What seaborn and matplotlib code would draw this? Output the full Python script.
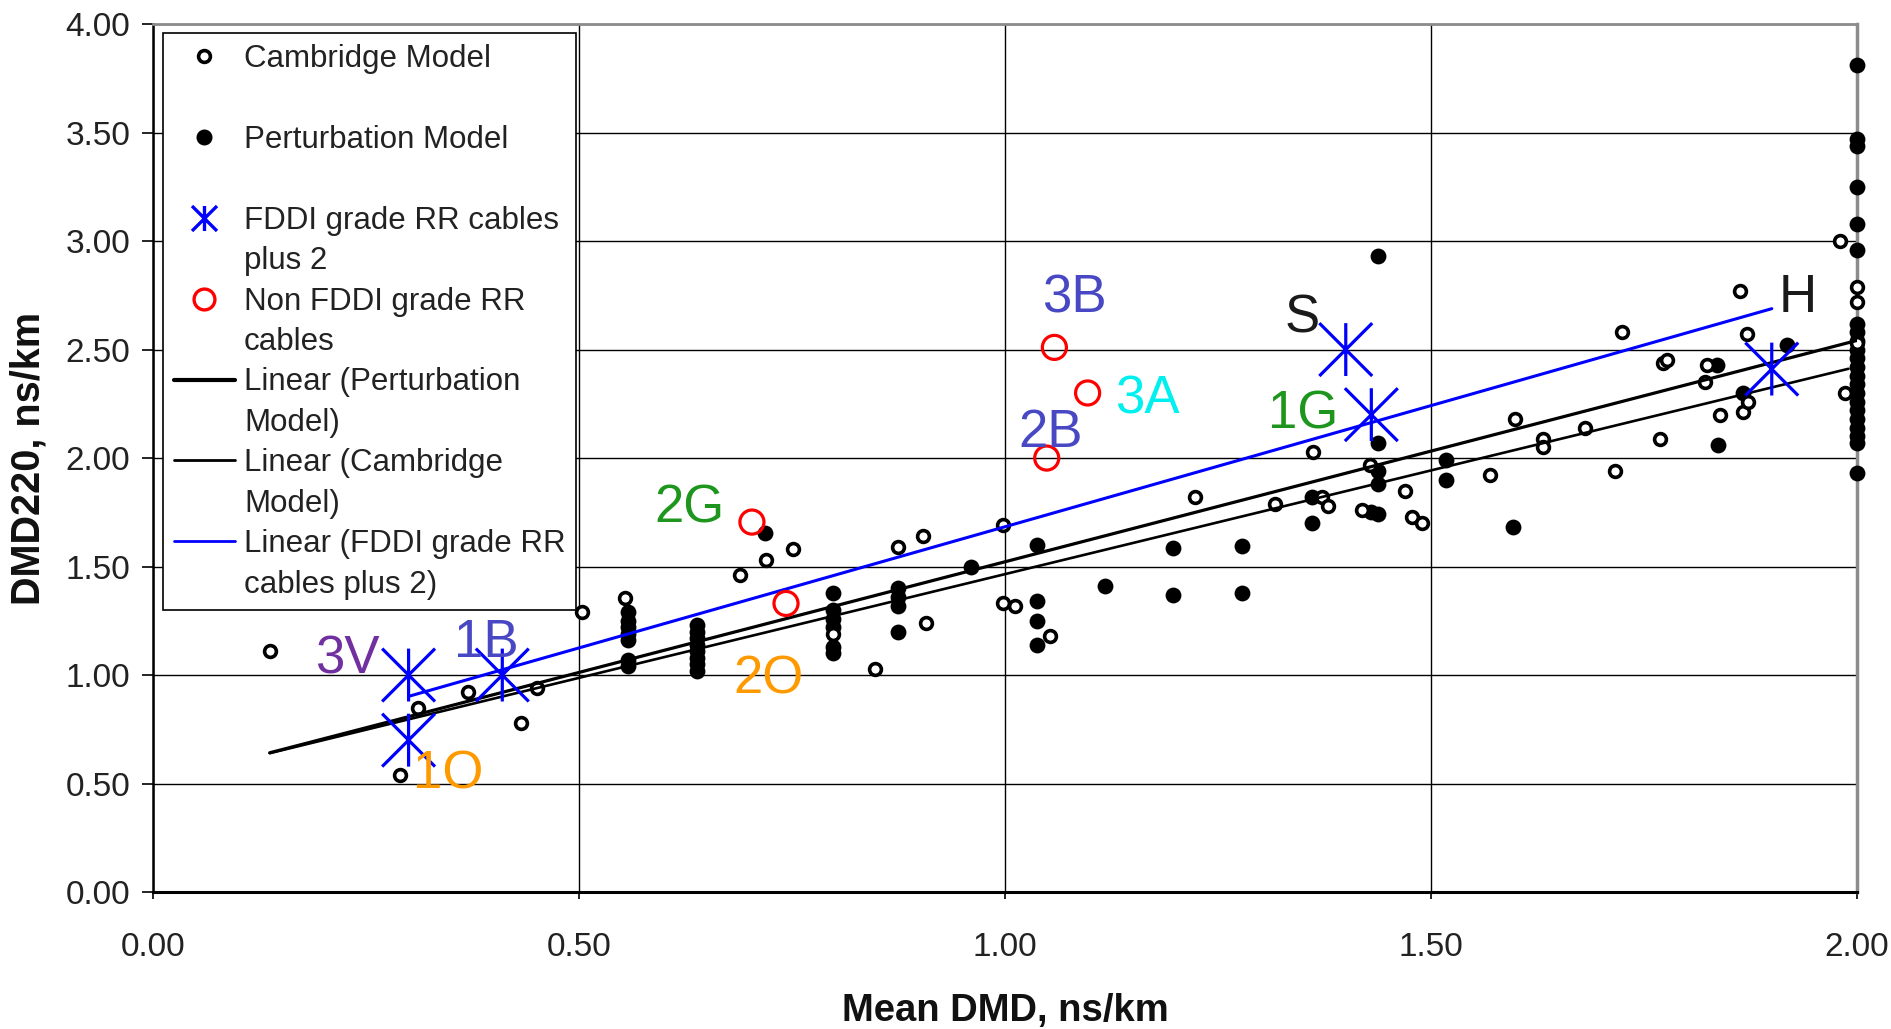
import numpy as np
import pandas as pd
import matplotlib
matplotlib.use("Agg")
import matplotlib.pyplot as plt
from matplotlib.lines import Line2D
from matplotlib.path import Path
from matplotlib.ticker import FormatStrFormatter, MultipleLocator
import seaborn as sns

sns.set_theme(style="white")
plt.rcParams["font.family"] = ["Liberation Sans", "DejaVu Sans"]

# --- data -------------------------------------------------------------------
cambridge_x = [0.137, 0.29, 0.311, 0.37, 0.432, 0.451, 0.503, 0.554, 0.689, 0.72,
               0.751, 0.798, 0.847, 0.874, 0.904, 0.907, 0.998, 0.998, 1.012, 1.053,
               1.223, 1.317, 1.362, 1.372, 1.379, 1.419, 1.428, 1.47, 1.478, 1.49,
               1.569, 1.599, 1.632, 1.632, 1.681, 1.716, 1.724, 1.769, 1.772, 1.777,
               1.822, 1.824, 1.839, 1.863, 1.866, 1.871, 1.872, 1.98, 1.986, 2.0,
               2.0, 2.0]
cambridge_y = [1.11, 0.54, 0.85, 0.92, 0.78, 0.94, 1.29, 1.355, 1.46, 1.53,
               1.58, 1.19, 1.03, 1.59, 1.64, 1.24, 1.69, 1.33, 1.32, 1.18,
               1.82, 1.79, 2.03, 1.82, 1.78, 1.76, 1.97, 1.85, 1.73, 1.70,
               1.92, 2.18, 2.09, 2.05, 2.14, 1.94, 2.58, 2.09, 2.44, 2.45,
               2.35, 2.43, 2.20, 2.77, 2.21, 2.57, 2.26, 3.00, 2.30, 2.79,
               2.72, 2.53]

perturbation_x = ([0.558] * 7 + [0.638] * 8 + [0.718] + [0.798] * 6 + [0.874] * 4
                  + [0.96] + [1.038] * 4 + [1.117] + [1.197] * 2 + [1.278] * 2
                  + [1.36] * 2 + [1.438] * 5 + [1.43] + [1.518] * 2 + [1.596]
                  + [1.836, 1.837, 1.866, 1.918] + [2.0] * 22)
perturbation_y = ([1.29, 1.25, 1.22, 1.19, 1.16, 1.07, 1.04]
                  + [1.23, 1.20, 1.17, 1.14, 1.11, 1.08, 1.05, 1.02]
                  + [1.655]
                  + [1.38, 1.30, 1.26, 1.22, 1.13, 1.10]
                  + [1.40, 1.36, 1.32, 1.20]
                  + [1.50]
                  + [1.60, 1.34, 1.25, 1.14]
                  + [1.41]
                  + [1.585, 1.37]
                  + [1.595, 1.38]
                  + [1.82, 1.70]
                  + [2.93, 2.07, 1.94, 1.88, 1.74]
                  + [1.75]
                  + [1.99, 1.90]
                  + [1.68]
                  + [2.43, 2.06, 2.30, 2.52]
                  + [3.81, 3.47, 3.44, 3.25, 3.08, 2.96, 2.62, 2.58, 2.54, 2.50,
                     2.46, 2.42, 2.38, 2.34, 2.30, 2.26, 2.22, 2.18, 2.14, 2.10,
                     2.07, 1.93])

fddi_x = [0.30, 0.30, 0.41, 1.40, 1.43, 1.90]
fddi_y = [1.00, 0.70, 1.00, 2.50, 2.20, 2.41]

non_fddi_x = [0.703, 0.743, 1.058, 1.097, 1.049]
non_fddi_y = [1.705, 1.33, 2.51, 2.30, 2.00]

# linear trend lines (slope, intercept, x range)
pert_trend = {"slope": 1.02, "intercept": 0.502, "x": [0.137, 2.0]}
camb_trend = {"slope": 0.956, "intercept": 0.509, "x": [0.137, 1.99]}

label_names = ["3B", "3A", "2B", "S", "1G", "H", "2G", "2O", "1B", "3V", "1O"]
label_x = [1.081, 1.167, 1.053, 1.349, 1.35, 1.931, 0.63, 0.723, 0.391, 0.228, 0.346]
label_y = [2.673, 2.207, 2.051, 2.58, 2.138, 2.673, 1.705, 0.917, 1.083, 1.009, 0.479]
label_colors = ["#4848C4", "#00F0F0", "#4848C4", "#1A1A1A", "#1E961E", "#1A1A1A",
                "#1E961E", "#FF9900", "#4848C4", "#7030A0", "#FF9900"]

# --- figure -----------------------------------------------------------------
fig = plt.figure(figsize=(18.91, 10.29), dpi=100)
ax = fig.add_axes([0.0809, 0.1331, 0.9011, 0.8435])

# asterisk like the spreadsheet marker: vertical bar plus an X
asterisk = Path([(0, -1), (0, 1), (-1, -1), (1, 1), (-1, 1), (1, -1)],
                [Path.MOVETO, Path.LINETO] * 3)

sns.scatterplot(x=perturbation_x, y=perturbation_y, color="black", edgecolor="black",
                linewidth=0, s=130, clip_on=False, zorder=3, ax=ax)
sns.scatterplot(x=cambridge_x, y=cambridge_y, color="white", edgecolor="black",
                linewidth=2.6, s=72, clip_on=False, zorder=3, ax=ax)

for tr, lw in [(pert_trend, 2.3), (camb_trend, 1.9)]:
    xs = np.array(tr["x"])
    sns.lineplot(x=xs, y=tr["intercept"] + tr["slope"] * xs, color="black",
                 linewidth=lw, zorder=4, ax=ax)

sns.regplot(x=fddi_x, y=fddi_y, scatter=False, ci=None, truncate=True,
            line_kws={"color": "#0000FF", "linewidth": 2.2, "zorder": 4}, ax=ax)

sns.scatterplot(x=non_fddi_x, y=non_fddi_y, color="#FF0000", facecolor="none",
                edgecolor="#FF0000", linewidth=2.3, s=300, zorder=5, ax=ax)
sns.scatterplot(x=fddi_x, y=fddi_y, marker=asterisk, color="#0000FF", facecolor="none",
                edgecolor="#0000FF", linewidth=2.3, s=1450, zorder=5, ax=ax)

for name, lx, ly, c in zip(label_names, label_x, label_y, label_colors):
    ax.text(lx, ly, name, color=c, fontsize=38, ha="center", va="baseline", zorder=6)

# axes, grid, ticks
ax.set_xlim(0, 2)
ax.set_ylim(0, 4)
ax.xaxis.set_major_locator(MultipleLocator(0.5))
ax.yaxis.set_major_locator(MultipleLocator(0.5))
ax.xaxis.set_major_formatter(FormatStrFormatter("%.2f"))
ax.yaxis.set_major_formatter(FormatStrFormatter("%.2f"))
ax.grid(True, color="black", linewidth=1.0)
ax.set_axisbelow(True)
ax.tick_params(axis="y", left=True, direction="out", length=8, width=1.2,
               color="black", pad=8.5, labelsize=24, labelcolor="#222222")
ax.tick_params(axis="x", bottom=True, direction="out", length=5, width=1.2,
               color="black", pad=24, labelsize=24, labelcolor="#222222")
for side, c, lw in [("left", "black", 1.8), ("bottom", "black", 2.2),
                    ("top", "#8C8C8C", 2.0), ("right", "#8C8C8C", 2.5)]:
    ax.spines[side].set_color(c)
    ax.spines[side].set_linewidth(lw)

ax.set_xlabel("Mean DMD, ns/km", fontsize=27.5, fontweight="bold", color="#111111")
ax.set_ylabel("DMD220, ns/km", fontsize=28.5, fontweight="bold", color="#111111")
ax.xaxis.set_label_coords(0.5, -0.116)
ax.yaxis.set_label_coords(-0.062, 0.5)

# legend: two text rows per entry, marker on the first row
blank = Line2D([], [], linestyle="none")
handles = [
    Line2D([], [], linestyle="none", marker="o", markersize=8.5, markerfacecolor="white",
           markeredgecolor="black", markeredgewidth=2.6), blank,
    Line2D([], [], linestyle="none", marker="o", markersize=10.5, markerfacecolor="black",
           markeredgecolor="black"), blank,
    Line2D([], [], linestyle="none", marker=asterisk, markersize=18,
           markeredgecolor="#0000FF", markeredgewidth=2.4), blank,
    Line2D([], [], linestyle="none", marker="o", markersize=15, markerfacecolor="none",
           markeredgecolor="#FF0000", markeredgewidth=2.4), blank,
    Line2D([], [], color="black", linewidth=3), blank,
    Line2D([], [], color="black", linewidth=2), blank,
    Line2D([], [], color="#0000FF", linewidth=2), blank,
]
labels = ["Cambridge Model", " ",
          "Perturbation Model", " ",
          "FDDI grade RR cables", "plus 2",
          "Non FDDI grade RR", "cables",
          "Linear (Perturbation", "Model)",
          "Linear (Cambridge", "Model)",
          "Linear (FDDI grade RR", "cables plus 2)"]
leg = ax.legend(handles, labels, loc="upper left", bbox_to_anchor=(0.0059, 0.9896),
                borderaxespad=0, frameon=True, fancybox=False, framealpha=1,
                edgecolor="black", fontsize=22.5, handlelength=1.95, handletextpad=0.3,
                borderpad=0.34, labelspacing=0.335)
leg.get_frame().set_linewidth(1.2)
for t in leg.get_texts():
    t.set_color("#222222")

fig.savefig("out.png", dpi=100, facecolor="white")
